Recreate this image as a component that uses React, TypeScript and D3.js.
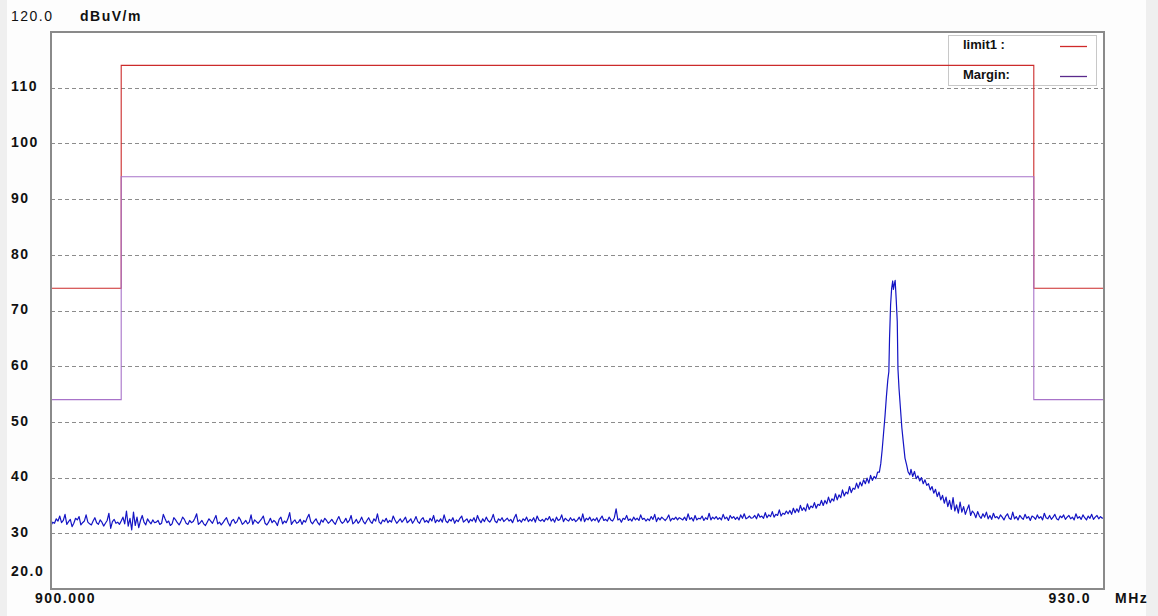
import React from "react";
import * as d3 from "d3";

// limit / margin step lines (level holds until the next frequency)
const limitFreqs = [900, 902, 928, 930];
const limitLevels = [74, 114, 74, 74];
const marginFreqs = [900, 902, 928, 930];
const marginLevels = [54, 94, 54, 54];

const yTicks = [110, 100, 90, 80, 70, 60, 50, 40, 30];
const gridLevels = [110, 100, 90, 80, 70, 60, 50, 40, 30];

// sweep, 900.00 .. 923.55 MHz every 0.05 MHz
const lowBandStart = 900;
const bandStep = 0.05;
const lowBandLevels = [
  31.4, 32.0, 31.8, 32.6, 32.2, 33.1, 31.9, 32.3, 33.4, 31.6, 32.1, 32.5, 31.2, 31.8, 32.7, 32.4, 33.0, 31.5, 31.9, 32.2,
  33.3, 32.0, 31.7, 31.5, 32.2, 32.8, 31.9, 31.6, 32.4, 32.0, 31.3, 31.8, 32.3, 33.6, 30.9, 32.1, 32.5, 31.8, 32.0, 31.6,
  32.2, 32.9, 31.7, 34.0, 31.3, 32.7, 30.6, 33.8, 31.4, 32.9, 31.0, 32.3, 33.2, 32.0, 31.5, 32.6, 32.1, 31.7, 32.4, 31.9,
  32.0, 32.3, 31.6, 31.8, 33.4, 32.6, 31.9, 32.2, 31.4, 31.7, 32.8, 32.4, 31.9, 31.5, 32.1, 32.9, 32.5, 31.8, 31.6, 32.3,
  31.9, 32.1, 32.7, 33.5, 31.6, 31.9, 32.3, 31.7, 31.4, 32.0, 32.6, 32.2, 31.8, 32.5, 33.2, 31.7, 32.0, 31.5, 31.9, 32.4,
  32.8, 31.9, 31.3, 32.2, 32.5, 31.8, 32.1, 32.9, 32.4, 31.6, 31.9, 32.3, 31.7, 32.0, 33.3, 31.6, 32.4, 32.1, 31.8, 32.2,
  32.6, 33.1, 31.8, 31.5, 32.0, 32.7, 31.9, 32.3, 32.0, 31.4, 32.5, 32.9, 31.7, 32.2, 31.9, 32.6, 33.7, 31.6, 32.1, 32.4,
  31.8, 32.0, 32.5, 31.6, 32.3, 32.0, 32.8, 33.4, 32.1, 31.7, 32.2, 32.6, 31.9, 31.5, 32.4, 32.0, 32.7, 32.3, 31.8, 32.1,
  32.5, 32.0, 31.6, 32.4, 33.0, 32.2, 31.8, 32.1, 32.7, 31.9, 32.3, 33.2, 31.7, 32.0, 32.5, 31.8, 32.2, 32.9, 32.1, 31.7,
  32.3, 32.8, 32.1, 31.8, 32.6, 32.2, 33.5, 32.0, 31.7, 32.4, 32.1, 32.7, 31.9, 32.3, 32.0, 33.1, 32.4, 31.8, 32.2, 32.6,
  32.0, 32.4, 32.9, 31.9, 32.2, 32.6, 31.8, 32.3, 33.0, 32.1, 31.8, 32.5, 32.8, 32.0, 32.3, 31.9, 32.7, 32.2, 33.2, 31.9,
  32.4, 32.1, 32.6, 32.0, 33.3, 32.2, 31.9, 32.5, 32.2, 32.8, 31.8, 32.4, 32.1, 32.7, 33.1, 32.0, 32.3, 32.6, 31.9, 32.5,
  32.2, 32.8, 32.0, 33.2, 32.4, 31.9, 32.6, 32.1, 32.9, 32.3, 32.0, 32.5, 33.4, 32.2, 31.9, 32.6, 32.3, 32.8, 32.1, 32.4,
  32.7, 32.2, 32.5, 31.9, 32.8, 33.4, 32.1, 32.4, 32.0, 32.6, 32.3, 32.9, 32.1, 32.5, 32.2, 32.8, 32.0, 33.1, 32.4, 32.2,
  32.5, 32.1, 32.7, 32.4, 33.0, 32.2, 32.6, 32.0, 32.9, 32.3, 32.5, 33.3, 32.1, 32.7, 32.4, 32.2, 32.8, 32.3, 32.6, 32.1,
  32.4, 32.9, 32.2, 33.5, 32.1, 32.7, 32.4, 32.9, 32.2, 32.6, 32.3, 32.8, 32.0, 32.6, 33.1, 32.3, 32.5, 32.2, 32.9, 32.4,
  32.2, 32.8, 34.4, 32.4, 32.6, 32.0, 32.7, 32.5, 33.2, 32.3, 32.6, 32.2, 32.9, 32.4, 32.7, 32.3, 33.3, 32.5, 32.7, 32.2,
  32.6, 32.3, 33.0, 32.5, 33.4, 32.1, 32.8, 32.4, 32.9, 32.6, 32.3, 32.7, 33.3, 32.2, 32.7, 32.5, 32.9, 32.4, 32.8, 32.6,
  32.4, 32.9, 32.3, 33.5, 32.5, 32.8, 32.2, 33.2, 32.4, 32.7, 32.6, 33.1, 32.3, 32.8, 32.5, 33.6, 32.4, 32.9, 32.6, 33.0,
  32.5, 32.8, 32.4, 33.4, 32.6, 32.9, 32.3, 33.2, 32.7, 33.0, 32.5, 32.9, 32.4, 33.3, 32.7, 33.5, 32.6, 32.8, 33.1, 32.7,
  32.8, 33.2, 32.6, 33.5, 32.9, 33.1, 32.7, 33.7, 32.8, 33.3, 33.0, 33.9, 32.9, 33.4, 33.2, 34.2, 33.1, 33.6, 33.4, 34.0,
  33.5, 34.1, 33.4, 34.5, 33.7, 34.4, 33.8, 35.0, 34.1, 34.6, 34.0, 35.3, 34.3, 34.9, 34.6, 35.5, 34.5, 35.2, 35.0, 35.9,
  35.0, 35.9, 35.3, 36.5, 35.5, 36.2, 35.8, 37.1, 36.0, 36.9, 36.4, 37.8, 36.7, 37.4, 37.1, 38.4, 37.3, 38.1, 37.9, 39.0,
  38.1, 39.2, 38.5, 39.6, 38.9, 39.9, 39.0, 40.4, 39.5, 40.2, 39.8, 41.0,
];

// the carrier near 924 MHz, finer steps
const peakFreqs = [
  923.6, 923.64, 923.68, 923.72, 923.76, 923.8, 923.84, 923.87, 923.89, 923.92, 923.95, 923.98, 924.0,
  924.02, 924.05, 924.08, 924.11, 924.13, 924.16, 924.2, 924.24, 924.28, 924.33, 924.38, 924.42, 924.47,
];
const peakLevels = [
  41.0, 42.5, 45.0, 48.0, 51.0, 54.5, 57.5, 59.0, 65.0, 71.0, 74.0, 75.3, 73.8,
  74.5, 75.4, 72.0, 68.0, 59.5, 56.0, 52.5, 49.0, 46.5, 43.5, 42.2, 41.0, 40.5,
];

// sweep, 924.50 .. 930.00 MHz every 0.05 MHz
const highBandStart = 924.5;
const highBandLevels = [
  41.5, 40.2, 41.1, 39.8, 40.3, 39.4, 40.0, 38.9, 39.6, 38.6,
  38.9, 37.8, 38.4, 37.2, 37.9, 36.6, 37.4, 36.0, 36.8, 35.4, 36.5, 34.8, 35.9, 34.3, 36.4, 34.0, 35.1, 33.6, 35.6, 33.8,
  34.8, 33.4, 34.3, 35.1, 33.2, 34.0, 33.6, 32.8, 33.9, 33.1, 32.7, 33.5, 32.9, 33.8, 32.6, 33.2, 32.5, 33.6, 32.8, 33.0,
  32.6, 33.3, 32.9, 32.4, 33.1, 33.5, 32.7, 32.5, 33.8, 32.6, 33.0, 32.4, 33.2, 32.8, 32.5, 33.4, 32.7, 33.0, 32.3, 33.1,
  32.9, 32.5, 33.3, 32.7, 33.0, 32.4, 33.6, 32.8, 32.6, 33.2, 32.5, 32.9, 33.4, 32.6, 32.4, 33.1, 32.8, 33.3, 32.5, 32.9,
  33.2, 32.6, 32.9, 32.4, 33.5, 32.7, 33.0, 32.5, 33.3, 32.8, 32.4, 33.1, 32.7, 33.4, 32.5, 32.9, 33.2, 32.6, 33.0, 32.7,
  32.8,
];

const W = 1158;
const H = 616;
const font = "'Liberation Sans', Arial, sans-serif";

export default function App() {
  const x = d3.scaleLinear().domain([900, 930]).range([51, 1104]);
  const y = d3.scaleLinear().domain([20, 120]).range([589, 32]);

  const stepLine = d3
    .line<[number, number]>()
    .x((d) => x(d[0]))
    .y((d) => y(d[1]))
    .curve(d3.curveStepAfter);

  const traceLine = d3
    .line<[number, number]>()
    .x((d) => x(d[0]))
    .y((d) => y(d[1]));

  const limitPts = limitFreqs.map((f, i) => [f, limitLevels[i]] as [number, number]);
  const marginPts = marginFreqs.map((f, i) => [f, marginLevels[i]] as [number, number]);

  const trace: [number, number][] = [
    ...lowBandLevels.map((v, i) => [lowBandStart + i * bandStep, v] as [number, number]),
    ...peakFreqs.map((f, i) => [f, peakLevels[i]] as [number, number]),
    ...highBandLevels.map((v, i) => [highBandStart + i * bandStep, v] as [number, number]),
  ];

  const [x0, x1] = x.range();
  const [yb, yt] = y.range();

  return (
    <svg
      width={W}
      height={H}
      style={{ position: "absolute", left: 0, top: 0, display: "block" }}
      fontFamily={font}
    >
      <rect width={W} height={H} fill="#fdfdfd" />
      <rect x={0} y={0} width={7} height={H} fill="#efefef" />
      <rect x={1146} y={0} width={12} height={H} fill="#efefef" />
      <rect x={x0} y={yt} width={x1 - x0} height={yb - yt} fill="#fff" />

      {/* grid */}
      <g stroke="#8c8c8c" strokeWidth={1} strokeDasharray="4,3">
        {gridLevels.map((v) => (
          <line key={v} x1={x0} x2={x1} y1={Math.round(y(v)) + 0.5} y2={Math.round(y(v)) + 0.5} />
        ))}
      </g>

      {/* legend */}
      <g>
        <rect x={948.5} y={35.5} width={148} height={50} fill="#fff" stroke="#c8c8c8" />
        <text x={963} y={46} dominantBaseline="middle" fontSize={13} fontWeight="bold" fill="#111">
          limit1 :
        </text>
        <line x1={1060} x2={1087} y1={46.5} y2={46.5} stroke="#d02a2a" strokeWidth={1.3} />
        <text x={963} y={76} dominantBaseline="middle" fontSize={13} fontWeight="bold" fill="#111">
          Margin:
        </text>
        <line x1={1060} x2={1087} y1={76.5} y2={76.5} stroke="#5a2a8c" strokeWidth={1.3} />
      </g>

      <path d={stepLine(limitPts) ?? ""} fill="none" stroke="#cc2b2b" strokeWidth={1.1} />
      <path d={stepLine(marginPts) ?? ""} fill="none" stroke="#a873c9" strokeWidth={1.1} />
      <path d={traceLine(trace) ?? ""} fill="none" stroke="#1414c4" strokeWidth={1.2} strokeLinejoin="round" />

      {/* frame */}
      <rect x={x0} y={yt} width={x1 - x0} height={yb - yt} fill="none" stroke="#8a8a8a" strokeWidth={2} />

      {/* axis labels */}
      <g fontSize={14} fontWeight="bold" fill="#111" letterSpacing={1.5}>
        {yTicks.map((v) => (
          <text key={v} x={11} y={y(v)} dominantBaseline="middle">
            {v}
          </text>
        ))}
        <text x={11} y={y(20) - 17} dominantBaseline="middle">
          20.0
        </text>
        <text x={80} y={17} dominantBaseline="middle">
          dBuV/m
        </text>
        <text x={x(900) - 16} y={599} dominantBaseline="middle">
          900.000
        </text>
        <text x={x(930) - 13} y={599} dominantBaseline="middle" textAnchor="end">
          930.0
        </text>
        <text x={1115} y={599} dominantBaseline="middle">
          MHz
        </text>
      </g>
      <text x={11} y={y(120) - 15} dominantBaseline="middle" fontSize={14} fill="#111" letterSpacing={1.5}>
        120.0
      </text>
    </svg>
  );
}
